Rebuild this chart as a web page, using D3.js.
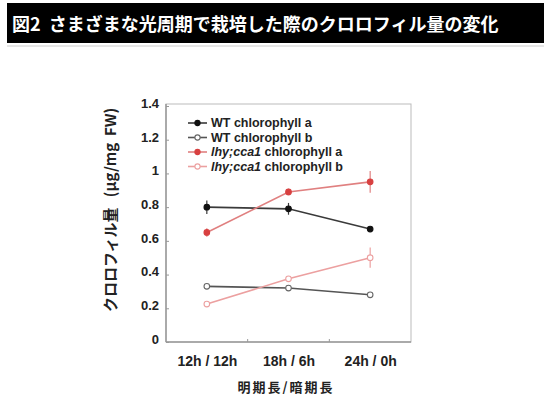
<!DOCTYPE html>
<html>
<head>
<meta charset="utf-8">
<script src="https://cdn.jsdelivr.net/npm/d3@7"></script>
<style>
body { margin: 0; background: #fff; }
svg text { font-family: "Liberation Sans", Arial, "Noto Sans CJK JP", sans-serif; font-weight: bold; }
.jp { font-family: "Noto Sans CJK JP", sans-serif; }
</style>
</head>
<body>
<svg id="chart" width="544" height="401"></svg>
<script>
var title = "図2  さまざまな光周期で栽培した際のクロロフィル量の変化";
var categories = ["12h / 12h", "18h / 6h", "24h / 0h"];
var yTicks = [0, 0.2, 0.4, 0.6, 0.8, 1, 1.2, 1.4];

var wtA = [0.80, 0.79, 0.67], wtAErr = [0.04, 0.035, 0.01];
var wtB = [0.33, 0.32, 0.28], wtBErr = [0.015, 0.015, 0.01];
var lhyA = [0.65, 0.89, 0.95], lhyAErr = [0.025, 0.02, 0.065];
var lhyB = [0.225, 0.375, 0.50], lhyBErr = [0.01, 0.015, 0.06];

var series = [
    {name: "WT chlorophyll a", values: wtA, err: wtAErr, line: "#3a3a3a", fill: "#111", stroke: "#111"},
    {name: "WT chlorophyll b", values: wtB, err: wtBErr, line: "#555", fill: "#fff", stroke: "#666"},
    {name: "lhy;cca1 chlorophyll a", values: lhyA, err: lhyAErr, line: "#e08080", fill: "#d84040", stroke: "#d84040"},
    {name: "lhy;cca1 chlorophyll b", values: lhyB, err: lhyBErr, line: "#eca0a0", fill: "#fff", stroke: "#eca0a0"}
];

var svg = d3.select("#chart"),
    margins = {left: 166, right: 133, top: 104, bottom: 59},
    width = 544, height = 401;

// title bar
svg.append("rect").attr("x", 7).attr("y", 3).attr("width", 537).attr("height", 40).attr("fill", "#000");
svg.append("line").attr("x1", 7).attr("x2", 544).attr("y1", 46).attr("y2", 46).attr("stroke", "#ccc");
svg.append("text").classed("jp", true).attr("x", 12).attr("y", 31)
    .attr("fill", "#fff").style("font-size", "18px").style("white-space", "pre").text(title);

var x = d3.scalePoint().domain(categories).range([margins.left, width - margins.right]).padding(0.5),
    y = d3.scaleLinear().domain([0, 1.4]).range([height - margins.bottom, 106]);

var x0 = margins.left, x1 = width - margins.right, yb = height - margins.bottom;

// frame
svg.append("rect").attr("x", x0).attr("y", margins.top).attr("width", x1 - x0).attr("height", yb - margins.top)
    .attr("fill", "none").attr("stroke", "#bbb").attr("stroke-width", 1);
svg.append("line").attr("x1", x0).attr("x2", x1).attr("y1", yb).attr("y2", yb).attr("stroke", "#999").attr("stroke-width", 1.5);
svg.append("line").attr("x1", x0).attr("x2", x0).attr("y1", margins.top).attr("y2", yb).attr("stroke", "#999").attr("stroke-width", 1.5);

// y axis
var yAxis = svg.append("g").attr("transform", "translate(" + [x0, 0] + ")")
    .call(d3.axisLeft(y).tickValues(yTicks).tickFormat(d3.format("")).tickSizeInner(-3).tickSizeOuter(0).tickPadding(7));
yAxis.select(".domain").remove();
yAxis.selectAll("line").attr("stroke", "#999");
yAxis.selectAll("text").style("font-size", "13px").attr("fill", "#222").attr("dy", "0.1em");

// x axis: labels, minor ticks between categories
var xAxis = svg.append("g").attr("transform", "translate(" + [0, yb] + ")")
    .call(d3.axisBottom(x).tickSize(0).tickPadding(14));
xAxis.select(".domain").remove();
xAxis.selectAll("text").style("font-size", "14px").attr("fill", "#222").style("white-space", "pre");
var step = x.step();
svg.selectAll(".xminor").data(categories.slice(1)).enter().append("line").classed("xminor", true)
    .attr("x1", d => x(d) - step / 2).attr("x2", d => x(d) - step / 2)
    .attr("y1", yb).attr("y2", yb - 3).attr("stroke", "#999");

// axis titles
svg.append("text").classed("jp", true).attr("x", 286).attr("y", 392).attr("text-anchor", "middle")
    .style("font-size", "13px").style("letter-spacing", "2px").attr("fill", "#222").text("明期長/暗期長");
svg.append("text").classed("jp", true).attr("transform", "translate(116,210) rotate(-90)").attr("text-anchor", "middle")
    .style("font-size", "15px").style("white-space", "pre").attr("fill", "#222").text("クロロフィル量   (μg/mg  FW)");

// series
var line = d3.line().x((d, i) => x(categories[i])).y(d => y(d));
series.forEach(s => {
    var g = svg.append("g");
    g.append("path").attr("d", line(s.values)).attr("fill", "none").attr("stroke", s.line).attr("stroke-width", 1.6);
    g.selectAll(".err").data(s.values).enter().append("line")
        .attr("x1", (d, i) => x(categories[i])).attr("x2", (d, i) => x(categories[i]))
        .attr("y1", (d, i) => y(d - s.err[i])).attr("y2", (d, i) => y(d + s.err[i]))
        .attr("stroke", s.line).attr("stroke-width", 1.2);
    g.selectAll(".pt").data(s.values).enter().append("circle")
        .attr("cx", (d, i) => x(categories[i])).attr("cy", d => y(d)).attr("r", 2.8)
        .attr("fill", s.fill).attr("stroke", s.stroke).attr("stroke-width", 1.1);
});

// legend
var legend = svg.append("g").attr("transform", "translate(188,123)");
series.forEach((s, i) => {
    var row = legend.append("g").attr("transform", "translate(0," + (i * 14.5) + ")");
    row.append("line").attr("x1", 0).attr("x2", 19).attr("stroke", s.line).attr("stroke-width", 1.6);
    row.append("circle").attr("cx", 9.5).attr("r", 2.6).attr("fill", s.fill).attr("stroke", s.stroke).attr("stroke-width", 1.1);
    var t = row.append("text").attr("x", 23).attr("dy", "0.35em").style("font-size", "12.5px").attr("fill", "#222");
    if (s.name.indexOf("lhy") === 0) {
        t.append("tspan").style("font-style", "italic").text("lhy;cca1");
        t.append("tspan").text(s.name.slice(8));
    } else {
        t.text(s.name);
    }
});
</script>
</body>
</html>
